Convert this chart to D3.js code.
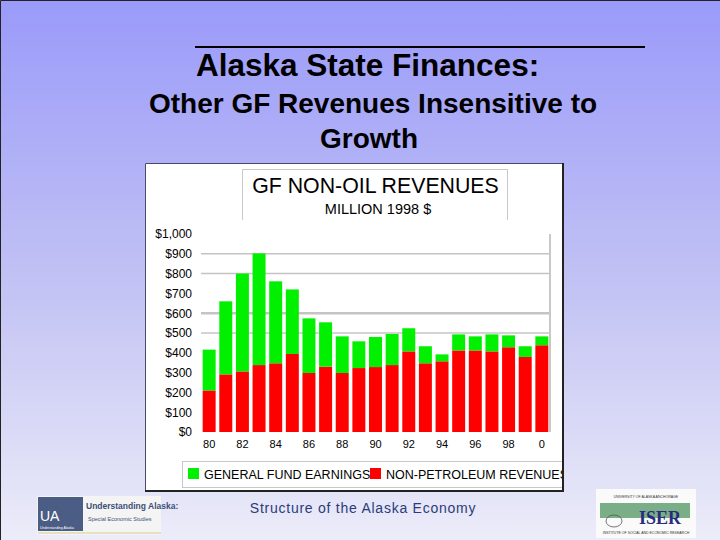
<!DOCTYPE html>
<html><head><meta charset="utf-8">
<script src="https://cdn.jsdelivr.net/npm/d3@7"></script>
<style>html,body{margin:0;padding:0;overflow:hidden;}svg{display:block;}</style>
</head><body>
<script>
// ---- data ----
const years = ["80","81","82","83","84","85","86","87","88","89","90","91","92","93","94","95","96","97","98","99","0"];
const nonPetroleum = [210,291,306,338,347,394,298,330,298,323,328,338,407,347,357,412,412,407,428,379,438];
const totals =       [416,660,800,902,761,720,574,554,483,458,480,495,524,433,392,493,483,493,488,433,483];
const generalFund = totals.map((t,i)=>t-nonPetroleum[i]);
const yTicks = [0,100,200,300,400,500,600,700,800,900,1000];
const gridValues = [500,600,800,900];
const xLabels = ["80","82","84","86","88","90","92","94","96","98","0"];
const seriesNames = ["GENERAL FUND EARNINGS","NON-PETROLEUM REVENUES"];
const colors = {gf:"#00f000", np:"#ff0000"};

const W=720,H=540;
const svg=d3.select("body").append("svg").attr("width",W).attr("height",H);
const defs=svg.append("defs");
const grad=defs.append("linearGradient").attr("id","bg").attr("x1",0).attr("y1",0).attr("x2",0).attr("y2",1);
grad.append("stop").attr("offset","0%").attr("stop-color","#9a9afa");
grad.append("stop").attr("offset","55%").attr("stop-color","#c4c4f4");
grad.append("stop").attr("offset","100%").attr("stop-color","#ececf9");
svg.append("rect").attr("width",W).attr("height",H).attr("fill","url(#bg)");
svg.append("path").attr("d","M0.5,540V0.5H720").attr("fill","none").attr("stroke","#222").attr("stroke-width",1);

const font="'Liberation Sans', Arial, sans-serif";
// slide titles
svg.append("line").attr("x1",195).attr("x2",645).attr("y1",47).attr("y2",47).attr("stroke","#000").attr("stroke-width",2);
svg.append("text").attr("x",196).attr("y",76).attr("font-family",font).attr("font-weight","bold").attr("font-size",31.5).attr("fill","#000").text("Alaska State Finances:");
svg.append("text").attr("x",373).attr("y",113).attr("text-anchor","middle").attr("font-family",font).attr("font-weight","bold").attr("font-size",28).attr("fill","#000").text("Other GF Revenues Insensitive to");
svg.append("text").attr("x",369).attr("y",148).attr("text-anchor","middle").attr("font-family",font).attr("font-weight","bold").attr("font-size",28).attr("fill","#000").text("Growth");

// chart panel
const px0=145, py0=163, px1=563, py1=491;
defs.append("clipPath").attr("id","panelClip").append("rect").attr("x",px0).attr("y",py0).attr("width",px1-px0).attr("height",py1-py0);
svg.append("rect").attr("x",px0).attr("y",py0).attr("width",px1-px0).attr("height",py1-py0).attr("fill","#fff");
const panel=svg.append("g").attr("clip-path","url(#panelClip)");

// chart title box
panel.append("path").attr("d","M242.5,220V169.5H507.5V220").attr("fill","none").attr("stroke","#c8c8c8").attr("stroke-width",1);
panel.append("text").attr("x",375.5).attr("y",193).attr("text-anchor","middle").attr("font-family",font).attr("font-size",21.3).attr("fill","#000").text("GF NON-OIL REVENUES");
panel.append("text").attr("x",378).attr("y",213.5).attr("text-anchor","middle").attr("font-family",font).attr("font-size",14.5).attr("fill","#000").text("MILLION 1998 $");

// scales
const x=d3.scaleBand().domain(years).range([201,550]).paddingInner(0.22).paddingOuter(0.1);
const y=d3.scaleLinear().domain([0,1000]).range([432,234]);

// gridlines
panel.selectAll(".grid").data(gridValues).join("line")
  .attr("x1",201).attr("x2",550).attr("y1",d=>y(d)).attr("y2",d=>y(d))
  .attr("stroke","#c4c4c4").attr("stroke-width",d=>d===600?2.5:1.5);
panel.append("line").attr("x1",550).attr("x2",550).attr("y1",y(1000)).attr("y2",y(0)).attr("stroke","#c8c8c8").attr("stroke-width",2);

// y axis
const yAxis=d3.axisLeft(y).tickValues(yTicks).tickSize(0).tickPadding(0).tickFormat(d=>"$"+d3.format(",")(d));
const ya=panel.append("g").attr("transform","translate(192,0)").call(yAxis);
ya.select(".domain").remove();
ya.selectAll("text").attr("font-family",font).attr("font-size",12).attr("fill","#000");

// x axis
const xAxis=d3.axisBottom(x).tickValues(xLabels).tickSize(0).tickPadding(0);
const xa=panel.append("g").attr("transform","translate(0,440)").call(xAxis);
xa.select(".domain").remove();
xa.selectAll("text").attr("font-family",font).attr("font-size",11).attr("fill","#000");

// stacked bars
const stackData=years.map((yr,i)=>({year:yr,np:nonPetroleum[i],gf:generalFund[i]}));
const stack=d3.stack().keys(["np","gf"])(stackData);
panel.selectAll(".series").data(stack).join("g").attr("fill",d=>colors[d.key])
  .selectAll("rect").data(d=>d).join("rect")
  .attr("x",d=>x(d.data.year)).attr("width",x.bandwidth())
  .attr("y",d=>y(d[1])).attr("height",d=>y(d[0])-y(d[1]));

// legend
panel.append("rect").attr("x",182.5).attr("y",461.5).attr("width",400).attr("height",26).attr("fill","#fff").attr("stroke","#c8c8c8");
const legendItems=[{name:seriesNames[0],c:colors.gf,x:188},{name:seriesNames[1],c:colors.np,x:370}];
const lg=panel.selectAll(".lg").data(legendItems).join("g");
lg.append("rect").attr("x",d=>d.x).attr("y",468).attr("width",11).attr("height",11).attr("fill",d=>d.c);
lg.append("text").attr("x",d=>d.x+16).attr("y",478.5).attr("font-family",font).attr("font-size",12.5).attr("fill","#000").text(d=>d.name);

// panel border
svg.append("path").attr("d",`M${px0+0.5},${py1}V${py0+0.5}H${px1}`).attr("fill","none").attr("stroke","#4a4a6a").attr("stroke-width",1);
svg.append("path").attr("d",`M${px0},${py1}H${px1}V${py0}`).attr("fill","none").attr("stroke","#222").attr("stroke-width",2);

// footer
svg.append("text").attr("x",363).attr("y",513).attr("text-anchor","middle").attr("font-family",font).attr("font-size",14).attr("letter-spacing",0.75).attr("fill","#2a3c78").text("Structure of the Alaska Economy");

// UA logo
const ua=svg.append("g");
ua.append("rect").attr("x",37).attr("y",496).attr("width",124).attr("height",39).attr("fill","#f4f4f4");
ua.append("rect").attr("x",38).attr("y",497).attr("width",45).attr("height",34).attr("fill","#4b5d84");
ua.append("text").attr("x",40).attr("y",521).attr("font-family",font).attr("font-size",14).attr("fill","#fff").text("UA");
ua.append("text").attr("x",40).attr("y",529).attr("font-family",font).attr("font-size",3.5).attr("fill","#fff").text("Understanding Alaska");
ua.append("text").attr("x",86).attr("y",509).attr("font-family",font).attr("font-size",8.5).attr("font-weight","bold").attr("fill","#3d4f76").text("Understanding Alaska:");
ua.append("text").attr("x",88).attr("y",521).attr("font-family",font).attr("font-size",5.5).attr("fill","#3d4f76").text("Special Economic Studies");
ua.append("line").attr("x1",38).attr("x2",161).attr("y1",533).attr("y2",533).attr("stroke","#d8cc88").attr("stroke-width",1);

// ISER logo
const is=svg.append("g");
is.append("rect").attr("x",596).attr("y",489).attr("width",100).attr("height",49).attr("fill","#fafafa");
is.append("rect").attr("x",600).attr("y",503).attr("width",90).attr("height",15).attr("fill","#7aae86");
is.append("text").attr("x",646).attr("y",498).attr("text-anchor","middle").attr("font-family",font).attr("font-size",3.5).attr("fill","#333").text("UNIVERSITY OF ALASKA ANCHORAGE");
is.append("text").attr("x",660).attr("y",524).attr("text-anchor","middle").attr("font-family","'Liberation Serif', serif").attr("font-weight","bold").attr("font-size",18).attr("fill","#2a2a80").text("ISER");
is.append("ellipse").attr("cx",614).attr("cy",521).attr("rx",8).attr("ry",6).attr("fill","none").attr("stroke","#555").attr("stroke-width",0.8);
is.append("text").attr("x",646).attr("y",534).attr("text-anchor","middle").attr("font-family",font).attr("font-size",3.5).attr("fill","#333").text("INSTITUTE OF SOCIAL AND ECONOMIC RESEARCH");
</script>
</body></html>
